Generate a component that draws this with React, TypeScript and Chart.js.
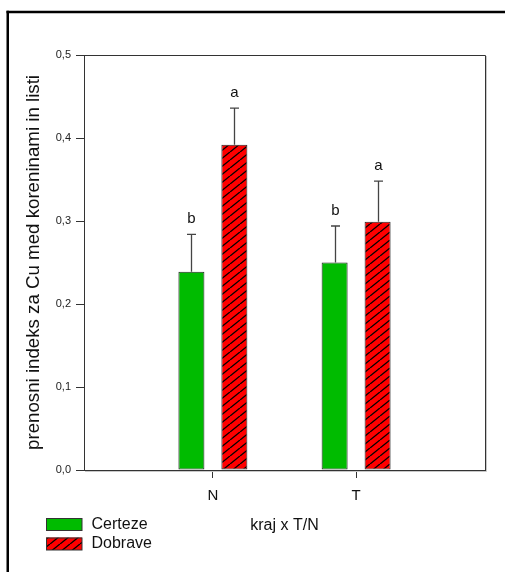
import React, { useEffect, useRef } from 'react';
import { Chart, registerables } from 'chart.js';

Chart.register(...registerables);

// ---- data ----
const categories = ['N', 'T'];
const seriesNames = ['Certeze', 'Dobrave'];
const certezeValues = [0.239, 0.250];
const dobraveValues = [0.392, 0.299];
const certezeErrors = [0.045, 0.044];
const dobraveErrors = [0.044, 0.049];
const certezeLetters = ['b', 'b'];
const dobraveLetters = ['a', 'a'];
const yTickLabels = ['0,0', '0,1', '0,2', '0,3', '0,4', '0,5'];
const yTitle = 'prenosni indeks za Cu med koreninami in listi';
const xTitle = 'kraj x T/N';

const FONT = '"Liberation Sans", Arial, Helvetica, sans-serif';
const GREEN = '#00bb00';
const RED = '#ff0000';
const AXIS = '#333333';

function makeHatch(): CanvasPattern | string {
  const c = document.createElement('canvas');
  c.width = 10;
  c.height = 8;
  const g = c.getContext('2d');
  if (!g) return RED;
  g.fillStyle = RED;
  g.fillRect(0, 0, 10, 8);
  g.strokeStyle = '#000';
  g.lineWidth = 1.3;
  for (const dx of [-10, 0, 10]) {
    g.beginPath();
    g.moveTo(dx, 8);
    g.lineTo(dx + 10, 0);
    g.stroke();
  }
  return g.createPattern(c, 'repeat') || RED;
}

export default function App() {
  const ref = useRef<HTMLCanvasElement | null>(null);

  useEffect(() => {
    document.body.style.margin = '0';
    const canvas = ref.current;
    if (!canvas) return;
    const hatch = makeHatch();
    const errs = [certezeErrors, dobraveErrors];
    const letters = [certezeLetters, dobraveLetters];
    const fills: any[] = [GREEN, hatch];

    const outerBorder = {
      id: 'outerBorder',
      beforeDraw(chart: any) {
        const ctx = chart.ctx;
        ctx.save();
        ctx.fillStyle = '#fff';
        ctx.fillRect(0, 0, chart.width, chart.height);
        ctx.fillStyle = '#000';
        ctx.fillRect(6.5, 10.75, 2.5, chart.height);
        ctx.fillRect(6.5, 10.75, chart.width, 2.5);
        ctx.restore();
      },
    };

    const frame = {
      id: 'frame',
      afterDraw(chart: any) {
        const { ctx, chartArea } = chart;
        const { left, right, top, bottom } = chartArea;
        ctx.save();
        ctx.strokeStyle = '#c8c8c8';
        ctx.lineWidth = 1;
        ctx.beginPath();
        ctx.moveTo(right + 1.5, top + 1);
        ctx.lineTo(right + 1.5, bottom + 1.5);
        ctx.lineTo(left + 1, bottom + 1.5);
        ctx.stroke();
        ctx.strokeStyle = AXIS;
        ctx.beginPath();
        ctx.moveTo(left, top + 0.5);
        ctx.lineTo(right + 0.5, top + 0.5);
        ctx.lineTo(right + 0.5, bottom + 0.5);
        ctx.stroke();
        ctx.restore();
      },
    };

    const errorBars = {
      id: 'errorBars',
      afterDatasetsDraw(chart: any) {
        const ctx = chart.ctx;
        const yScale = chart.scales.y;
        ctx.save();
        chart.data.datasets.forEach((ds: any, di: number) => {
          const meta = chart.getDatasetMeta(di);
          meta.data.forEach((bar: any, i: number) => {
            const v = ds.data[i].y;
            const topPx = yScale.getPixelForValue(v + errs[di][i]);
            const x = Math.round(bar.x) + 0.5;
            ctx.strokeStyle = '#444';
            ctx.lineWidth = 1.3;
            ctx.beginPath();
            ctx.moveTo(x, bar.y);
            ctx.lineTo(x, topPx);
            ctx.moveTo(x - 4.5, topPx);
            ctx.lineTo(x + 4.5, topPx);
            ctx.stroke();
            ctx.fillStyle = '#111';
            ctx.font = `15px ${FONT}`;
            ctx.textAlign = 'center';
            ctx.textBaseline = 'alphabetic';
            ctx.fillText(letters[di][i], x, topPx - 11);
          });
        });
        ctx.restore();
      },
    };

    const customLegend = {
      id: 'customLegend',
      afterDraw(chart: any) {
        const ctx = chart.ctx;
        ctx.save();
        seriesNames.forEach((name, i) => {
          const bx = 46;
          const by = 518 + i * 19.5;
          ctx.fillStyle = fills[i];
          ctx.fillRect(bx, by, 36, 12.5);
          ctx.strokeStyle = '#333';
          ctx.lineWidth = 1;
          ctx.strokeRect(bx + 0.5, by + 0.5, 35.5, 12);
          ctx.fillStyle = '#111';
          ctx.font = `16px ${FONT}`;
          ctx.textAlign = 'left';
          ctx.textBaseline = 'middle';
          ctx.fillText(name, 91.5, by + 6.5);
        });
        ctx.restore();
      },
    };

    const chart = new Chart(canvas, {
      type: 'bar',
      data: {
        datasets: [
          {
            label: seriesNames[0],
            data: certezeValues.map((v, i) => ({ x: i, y: v })),
            backgroundColor: GREEN,
            borderColor: '#222',
            borderWidth: 1,
            borderSkipped: false,
          },
          {
            label: seriesNames[1],
            data: dobraveValues.map((v, i) => ({ x: i, y: v })),
            backgroundColor: hatch as any,
            borderColor: '#222',
            borderWidth: 1,
            borderSkipped: false,
          },
        ],
      },
      options: {
        responsive: false,
        animation: false,
        events: [],
        layout: { padding: { top: 55, right: 20, left: 0, bottom: 0 } },
        datasets: { bar: { categoryPercentage: 0.6, barPercentage: 0.605 } },
        plugins: {
          legend: { display: false },
          tooltip: { enabled: false },
        },
        scales: {
          x: {
            type: 'linear',
            min: -0.9,
            max: 1.9,
            offset: false,
            afterBuildTicks: (axis: any) => {
              axis.ticks = categories.map((_, i) => ({ value: i }));
            },
            afterFit: (axis: any) => {
              axis.height = 102;
            },
            grid: { display: true, drawOnChartArea: false, drawTicks: true, tickLength: 8, color: AXIS, offset: false },
            border: { display: true, color: AXIS, width: 1 },
            ticks: {
              autoSkip: false,
              maxRotation: 0,
              padding: 9,
              color: '#111',
              font: { family: FONT, size: 15 },
              callback: (v: any) => categories[Math.round(Number(v))] ?? '',
            },
            title: {
              display: true,
              text: xTitle,
              color: '#111',
              font: { family: FONT, size: 16 },
              padding: { top: 0, bottom: 37 },
            },
          },
          y: {
            min: 0,
            max: 0.5,
            afterFit: (axis: any) => {
              axis.width = 84;
            },
            grid: { display: true, drawOnChartArea: false, drawTicks: true, tickLength: 8, color: AXIS },
            border: { display: true, color: AXIS, width: 1 },
            ticks: {
              stepSize: 0.1,
              padding: 5,
              color: '#222',
              font: { family: FONT, size: 11 },
              callback: (_v: any, i: number) => yTickLabels[i] ?? '',
            },
            title: {
              display: true,
              text: yTitle,
              color: '#111',
              font: { family: FONT, size: 18.7 },
              padding: { top: 23, bottom: 0 },
            },
          },
        },
      } as any,
      plugins: [outerBorder, frame, errorBars, customLegend],
    });

    return () => chart.destroy();
  }, []);

  return (
    <div style={{ width: 505, height: 572 }}>
      <canvas ref={ref} width={505} height={572} style={{ display: 'block', width: 505, height: 572 }} />
    </div>
  );
}
